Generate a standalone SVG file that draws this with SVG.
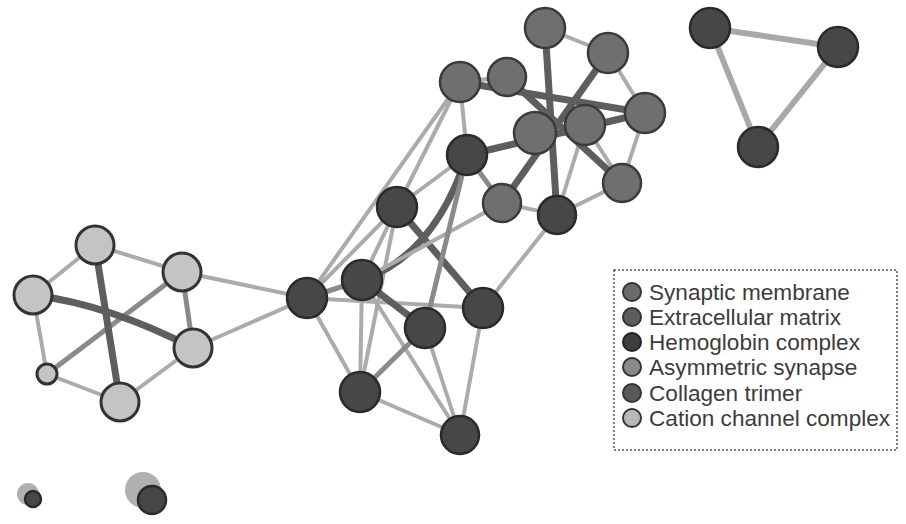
<svg xmlns="http://www.w3.org/2000/svg" width="906" height="524" viewBox="0 0 906 524">
  <style>
    .e { fill: none; stroke-linecap: round; }
    .t { stroke: #ababab; stroke-width: 4; }
    .m { stroke: #8a8a8a; stroke-width: 5; }
    .k { stroke: #5e5e5e; stroke-width: 7; }
    .tri { stroke: #a8a8a8; stroke-width: 6; }
    .light { fill: #c4c4c4; stroke: #333; stroke-width: 3; }
    .med { fill: #6f6f6f; stroke: #3a3a3a; stroke-width: 2.5; }
    .dark { fill: #474747; stroke: #2a2a2a; stroke-width: 2.5; }
    .legend-box { fill: #fff; stroke: #555; stroke-width: 1.5; stroke-dasharray: 2 2; }
    .lbl { font-family: "Liberation Sans", Arial, sans-serif; font-size: 22.6px; fill: #3c3c3c; }
  </style>

  <rect width="906" height="524" fill="#fff"/>

  <g id="connectors">
    <!-- left cluster -->
    <line class="e t" x1="95" y1="245" x2="33" y2="295"/>
    <line class="e t" x1="95" y1="245" x2="182" y2="272"/>
    <line class="e t" x1="33" y1="295" x2="47" y2="374"/>
    <line class="e t" x1="47" y1="374" x2="120" y2="402"/>
    <line class="e t" x1="120" y1="402" x2="193" y2="348"/>
    <line class="e m" x1="182" y1="272" x2="193" y2="348"/>
    <line class="e t" x1="182" y1="272" x2="307" y2="298"/>
    <line class="e t" x1="193" y1="348" x2="307" y2="298"/>
    <line class="e m" x1="182" y1="272" x2="47" y2="374"/>
    <line class="e k" x1="95" y1="245" x2="120" y2="402"/>
    <path class="e k" d="M33 295 Q110 305 193 348"/>

    <!-- middle cluster -->
    <line class="e t" x1="307" y1="298" x2="397" y2="207"/>
    <line class="e m" x1="307" y1="298" x2="362" y2="280"/>
    <line class="e t" x1="307" y1="298" x2="483" y2="308"/>
    <line class="e t" x1="307" y1="298" x2="360" y2="392"/>
    <line class="e t" x1="307" y1="298" x2="460" y2="82"/>
    <line class="e t" x1="397" y1="207" x2="362" y2="280"/>
    <line class="e k" x1="397" y1="207" x2="483" y2="308"/>
    <line class="e t" x1="397" y1="207" x2="460" y2="82"/>
    <line class="e t" x1="397" y1="207" x2="467" y2="155"/>
    <line class="e t" x1="397" y1="207" x2="360" y2="392"/>
    <path class="e k" d="M467 155 Q435 255 362 280"/>
    <line class="e k" x1="362" y1="280" x2="425" y2="328"/>
    <line class="e t" x1="362" y1="280" x2="360" y2="392"/>
    <line class="e t" x1="362" y1="280" x2="460" y2="435"/>
    <line class="e t" x1="362" y1="280" x2="502" y2="203"/>
    <line class="e m" x1="425" y1="328" x2="360" y2="392"/>
    <line class="e m" x1="425" y1="328" x2="467" y2="155"/>
    <line class="e t" x1="425" y1="328" x2="460" y2="435"/>
    <line class="e t" x1="483" y1="308" x2="460" y2="435"/>
    <line class="e t" x1="360" y1="392" x2="460" y2="435"/>
    <line class="e t" x1="483" y1="308" x2="557" y2="215"/>

    <!-- upper cluster -->
    <line class="e t" x1="545" y1="28" x2="608" y2="53"/>
    <line class="e t" x1="608" y1="53" x2="645" y2="113"/>
    <line class="e t" x1="645" y1="113" x2="622" y2="183"/>
    <line class="e t" x1="502" y1="203" x2="557" y2="215"/>
    <line class="e t" x1="622" y1="183" x2="557" y2="215"/>
    <line class="e t" x1="460" y1="82" x2="507" y2="77"/>
    <line class="e t" x1="460" y1="82" x2="467" y2="155"/>
    <line class="e t" x1="585" y1="125" x2="557" y2="215"/>
    <line class="e t" x1="585" y1="125" x2="622" y2="183"/>
    <line class="e m" x1="467" y1="155" x2="502" y2="203"/>
    <line class="e k" x1="545" y1="28" x2="557" y2="215"/>
    <line class="e k" x1="608" y1="53" x2="502" y2="203"/>
    <line class="e k" x1="507" y1="77" x2="622" y2="183"/>
    <line class="e k" x1="460" y1="82" x2="645" y2="113"/>
    <line class="e k" x1="467" y1="155" x2="645" y2="113"/>

    <!-- triangle -->
    <line class="e tri" x1="710" y1="28" x2="838" y2="47"/>
    <line class="e tri" x1="710" y1="28" x2="758" y2="147"/>
    <line class="e tri" x1="838" y1="47" x2="758" y2="147"/>
  </g>

  <!-- left cluster nodes -->
  <g id="node-a"><circle class="light" cx="95" cy="245" r="19"/></g>
  <g id="node-b"><circle class="light" cx="33" cy="295" r="19"/></g>
  <g id="node-c"><circle class="light" cx="182" cy="272" r="19"/></g>
  <g id="node-d"><circle class="light" cx="193" cy="348" r="19"/></g>
  <g id="node-e"><circle class="light" cx="47" cy="374" r="10"/></g>
  <g id="node-f"><circle class="light" cx="120" cy="402" r="19"/></g>

  <!-- middle cluster nodes -->
  <g id="node-g"><circle class="dark" cx="307" cy="298" r="20"/></g>
  <g id="node-h"><circle class="dark" cx="397" cy="207" r="20"/></g>
  <g id="node-i"><circle class="dark" cx="362" cy="280" r="20"/></g>
  <g id="node-j"><circle class="dark" cx="425" cy="328" r="20"/></g>
  <g id="node-k"><circle class="dark" cx="483" cy="308" r="20"/></g>
  <g id="node-l"><circle class="dark" cx="360" cy="392" r="20"/></g>
  <g id="node-m"><circle class="dark" cx="460" cy="435" r="19"/></g>

  <!-- upper cluster nodes -->
  <g id="node-u"><circle class="med" cx="535" cy="133" r="21"/></g>
  <g id="node-p"><circle class="med" cx="545" cy="28" r="20"/></g>
  <g id="node-q"><circle class="med" cx="608" cy="53" r="20"/></g>
  <g id="node-r"><circle class="med" cx="460" cy="82" r="20"/></g>
  <g id="node-s"><circle class="med" cx="507" cy="77" r="19"/></g>
  <g id="node-t"><circle class="med" cx="645" cy="113" r="20"/></g>
  <g id="node-v"><circle class="med" cx="585" cy="125" r="20"/></g>
  <g id="node-n"><circle class="dark" cx="467" cy="155" r="20"/></g>
  <g id="node-w"><circle class="med" cx="622" cy="183" r="19"/></g>
  <g id="node-o"><circle class="med" cx="502" cy="203" r="19"/></g>
  <g id="node-x"><circle class="dark" cx="557" cy="215" r="19"/></g>

  <!-- triangle nodes -->
  <g id="node-t1"><circle class="dark" cx="710" cy="28" r="20"/></g>
  <g id="node-t2"><circle class="dark" cx="838" cy="47" r="20"/></g>
  <g id="node-t3"><circle class="dark" cx="758" cy="147" r="20"/></g>

  <!-- isolated nodes -->
  <g id="node-pair1">
    <circle cx="28" cy="494" r="11" fill="#b0b0b0"/>
    <circle class="dark" cx="33" cy="499" r="8"/>
  </g>
  <g id="node-pair2">
    <circle cx="143" cy="490" r="18" fill="#b0b0b0"/>
    <circle class="dark" cx="152" cy="500" r="14"/>
  </g>

  <!-- legend -->
  <g id="legend">
    <rect class="legend-box" x="614" y="270" width="283" height="180"/>
    <circle cx="632" cy="292" r="9" fill="#6a6a6a" stroke="#333" stroke-width="2"/>
    <text class="lbl" x="649" y="300">Synaptic membrane</text>
    <circle cx="632" cy="317" r="9" fill="#5e5e5e" stroke="#333" stroke-width="2"/>
    <text class="lbl" x="649" y="325">Extracellular matrix</text>
    <circle cx="632" cy="342" r="9" fill="#3e3e3e" stroke="#222" stroke-width="2"/>
    <text class="lbl" x="649" y="350">Hemoglobin complex</text>
    <circle cx="632" cy="367" r="9" fill="#8a8a8a" stroke="#333" stroke-width="2"/>
    <text class="lbl" x="649" y="375">Asymmetric synapse</text>
    <circle cx="632" cy="393" r="9" fill="#5a5a5a" stroke="#333" stroke-width="2"/>
    <text class="lbl" x="649" y="401">Collagen trimer</text>
    <circle cx="632" cy="418" r="9" fill="#b8b8b8" stroke="#333" stroke-width="2"/>
    <text class="lbl" x="649" y="426">Cation channel complex</text>
  </g>
</svg>
